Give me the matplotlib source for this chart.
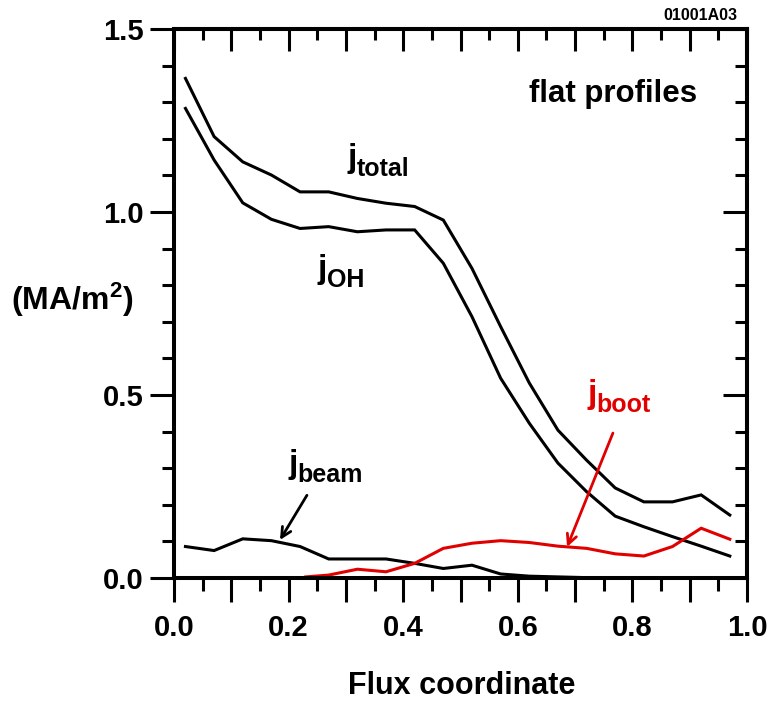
import matplotlib
matplotlib.use("Agg")
import matplotlib.pyplot as plt
from matplotlib.ticker import MultipleLocator, FuncFormatter
from matplotlib.transforms import offset_copy

plt.rcParams['font.family'] = ['Liberation Sans', 'DejaVu Sans']
plt.rcParams['font.weight'] = 'bold'
plt.rcParams['mathtext.fontset'] = 'custom'
plt.rcParams['mathtext.rm'] = 'Liberation Sans:bold'
plt.rcParams['mathtext.bf'] = 'Liberation Sans:bold'
plt.rcParams['mathtext.it'] = 'Liberation Sans:bold'

# ---- data ----
x = [0.02, 0.07, 0.12, 0.17, 0.22, 0.27, 0.32, 0.37, 0.42, 0.47,
     0.52, 0.57, 0.62, 0.67, 0.72, 0.77, 0.82, 0.87, 0.92, 0.97]
j_total = [1.365, 1.206, 1.137, 1.101, 1.055, 1.055, 1.037, 1.024, 1.015, 0.978,
           0.846, 0.687, 0.533, 0.404, 0.322, 0.246, 0.208, 0.208, 0.227, 0.172]
j_OH = [1.283, 1.142, 1.025, 0.980, 0.955, 0.960, 0.946, 0.951, 0.951, 0.860,
        0.714, 0.546, 0.423, 0.314, 0.236, 0.169, 0.140, 0.113, 0.087, 0.060]
j_beam = [0.086, 0.075, 0.107, 0.102, 0.086, 0.052, 0.052, 0.052, 0.040, 0.026,
          0.035, 0.011, 0.005, 0.003, 0.001, 0.0, 0.0, 0.0, 0.0, 0.0]
x_boot = [0.23, 0.27, 0.32, 0.37, 0.42, 0.47, 0.52, 0.57, 0.62, 0.67,
          0.72, 0.77, 0.82, 0.87, 0.92, 0.97]
j_boot = [0.003, 0.008, 0.024, 0.017, 0.040, 0.081, 0.095, 0.102, 0.097, 0.087,
          0.081, 0.066, 0.060, 0.086, 0.136, 0.106]
x_ticklabels = ['0.0', '0.2', '0.4', '0.6', '0.8', '1.0']
y_ticklabels = ['0.0', '0.5', '1.0', '1.5']

RED = '#e00000'

fig = plt.figure(figsize=(7.7, 7.02), dpi=100)
ax = fig.add_axes([174/770, 1-578/702, (747-174)/770, (578-29)/702])

lw = 2.2
ax.plot(x, j_total, color='black', lw=lw, solid_joinstyle='miter')
ax.plot(x, j_OH, color='black', lw=lw, solid_joinstyle='miter')
ax.plot(x, j_beam, color='black', lw=lw, solid_joinstyle='miter')
ax.plot(x_boot, j_boot, color=RED, lw=lw, solid_joinstyle='miter')

ax.set_xlim(0, 1.0)
ax.set_ylim(0, 1.5)

for s in ax.spines.values():
    s.set_linewidth(2.9)

ax.xaxis.set_major_locator(MultipleLocator(0.1))
ax.xaxis.set_minor_locator(MultipleLocator(0.05))
ax.xaxis.set_major_formatter(FuncFormatter(
    lambda v, p: x_ticklabels[int(round(v * 5))]
    if abs(v * 5 - round(v * 5)) < 1e-6 and 0 <= round(v * 5) < len(x_ticklabels) else ''))
ax.yaxis.set_major_locator(MultipleLocator(0.5))
ax.yaxis.set_minor_locator(MultipleLocator(0.1))
ax.yaxis.set_major_formatter(FuncFormatter(
    lambda v, p: y_ticklabels[int(round(v * 2))] if 0 <= round(v * 2) < len(y_ticklabels) else ''))

ax.tick_params(axis='both', which='major', length=17, width=2.2, labelsize=21)
ax.tick_params(axis='both', which='minor', length=9, width=2.2)
ax.tick_params(axis='x', which='both', bottom=True, top=False, direction='out', pad=9)
ax.tick_params(axis='y', which='both', left=True, right=False, direction='out', pad=5)

axt = ax.secondary_xaxis('top')
axt.xaxis.set_major_locator(MultipleLocator(0.1))
axt.xaxis.set_minor_locator(MultipleLocator(0.05))
axt.tick_params(which='major', direction='in', length=16, width=2.2, labeltop=False)
axt.tick_params(which='minor', direction='in', length=8, width=2.2)
axt.spines['top'].set_linewidth(2.9)

axr = ax.secondary_yaxis('right')
axr.yaxis.set_major_locator(MultipleLocator(0.5))
axr.yaxis.set_minor_locator(MultipleLocator(0.1))
axr.tick_params(which='major', direction='in', length=17, width=2.2, labelright=False)
axr.tick_params(which='minor', direction='in', length=9, width=2.2)
axr.spines['right'].set_linewidth(2.9)

for lab in ax.get_xticklabels() + ax.get_yticklabels():
    lab.set_fontweight('bold')

# labels
fig.text(462/770, 1-686/702, 'Flux coordinate', ha='center', va='center',
         fontsize=22, fontweight='bold')
fig.text(72/770, 1-300/702, r'(MA/m$^{2}$)', ha='center', va='center',
         fontsize=23, fontweight='bold')
fig.text(700/770, 1-15/702, '01001A03', ha='center', va='center',
         fontsize=11.5, fontweight='bold')
ax.text(0.767, 1.322, 'flat profiles', ha='center', va='center',
        fontsize=22.5, fontweight='bold')


def jlabel(xd, yd, sub, color='black'):
    ax.text(xd, yd, 'j', ha='left', va='baseline', fontsize=24,
            fontweight='bold', color=color)
    tr = offset_copy(ax.transData, fig=fig, x=6.9, y=-6.5, units='points')
    ax.text(xd, yd, sub, ha='left', va='baseline', fontsize=18,
            fontweight='bold', color=color, transform=tr)


jlabel(0.302, 1.123, 'total')
jlabel(0.251, 0.820, 'OH')
jlabel(0.199, 0.287, 'beam')
jlabel(0.721, 0.478, 'boot', color=RED)

ax.annotate('', xy=(0.185, 0.104), xytext=(0.232, 0.226),
            arrowprops=dict(arrowstyle='->,head_length=0.7,head_width=0.35',
                            color='black', lw=2.0, shrinkA=0, shrinkB=0))
ax.annotate('', xy=(0.686, 0.085), xytext=(0.766, 0.396),
            arrowprops=dict(arrowstyle='->,head_length=0.7,head_width=0.35',
                            color=RED, lw=2.0, shrinkA=0, shrinkB=0))

fig.savefig('out.png', dpi=100)
